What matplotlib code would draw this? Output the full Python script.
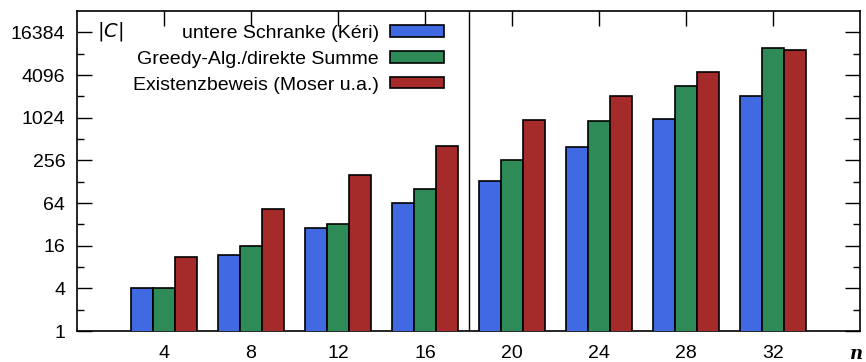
import matplotlib.pyplot as plt
import numpy as np
from matplotlib.ticker import FixedLocator, NullFormatter

plt.rcParams["font.family"] = ["Liberation Sans", "DejaVu Sans"]
plt.rcParams["mathtext.fontset"] = "dejavusans"

n_values = [4, 8, 12, 16, 20, 24, 28, 32]
keri_lower = [4, 12, 28, 64, 130, 390, 975, 2080]
greedy_direct = [4, 16, 32, 100, 256, 915, 2880, 10000]
existence_moser = [11, 52, 157, 406, 944, 2100, 4530, 9270]

series_labels = [
    "untere Schranke (Kéri)",
    "Greedy-Alg./direkte Summe",
    "Existenzbeweis (Moser u.a.)",
]
series_colors = ["#4169e1", "#2e8b57", "#a52a2a"]
y_ticks = [1, 4, 16, 64, 256, 1024, 4096, 16384]

fig = plt.figure(figsize=(8.66, 3.62), dpi=100)
ax = fig.add_axes([77 / 866, 1 - 331 / 362, (860 - 77) / 866, (331 - 11) / 362])

x = np.array(n_values, dtype=float)
bar_w = 1.0
for offset, vals, col in zip([-1, 0, 1], [keri_lower, greedy_direct, existence_moser], series_colors):
    ax.bar(x + offset * bar_w, vals, width=bar_w, color=col, edgecolor="black",
           linewidth=1.2, zorder=3)

ax.set_yscale("log", base=2)
ax.set_ylim(1, 32768)
ax.set_xlim(0, 36)
ax.axvline(18, color="black", linewidth=1.0, zorder=4)

ax.yaxis.set_major_locator(FixedLocator(y_ticks))
ax.set_yticklabels([str(v) for v in y_ticks])
ax.yaxis.set_minor_locator(FixedLocator([2 ** k for k in range(1, 15, 2)]))
ax.yaxis.set_minor_formatter(NullFormatter())
ax.tick_params(axis="y", which="major", direction="in", length=11, width=1,
               right=True, labelsize=14, pad=8.5)
ax.tick_params(axis="y", which="minor", direction="in", length=5, width=1, right=True)

ax.set_xticks(n_values)
ax.tick_params(axis="x", which="both", direction="in", length=11, width=1,
               top=True, bottom=False, labelsize=14, pad=10)

for sp in ax.spines.values():
    sp.set_linewidth(1.2)

# legend: right-aligned text followed by colour swatches
leg = ax.legend(
    [plt.Rectangle((0, 0), 1, 1, facecolor=c, edgecolor="black", linewidth=1.2)
     for c in series_colors],
    series_labels, loc="upper right", bbox_to_anchor=(444 / 866, 1 - 25 / 362),
    bbox_transform=fig.transFigure,
    frameon=False, fontsize=14, markerfirst=False, handlelength=2.8,
    handleheight=0.55, labelspacing=0.45, borderaxespad=0, borderpad=0,
    handletextpad=0.55,
)
for t in leg.get_texts():
    t.set_ha("right")
leg._legend_box.align = "right"

ax.text(0.026, 0.937, r"$|C|$", transform=ax.transAxes, fontsize=14,
        ha="left", va="center")
fig.text(850 / 866, 1 - 354 / 362, "n", fontsize=13, family="DejaVu Serif",
         style="italic", weight="bold", ha="left", va="center")

fig.savefig("out.png", dpi=100)
